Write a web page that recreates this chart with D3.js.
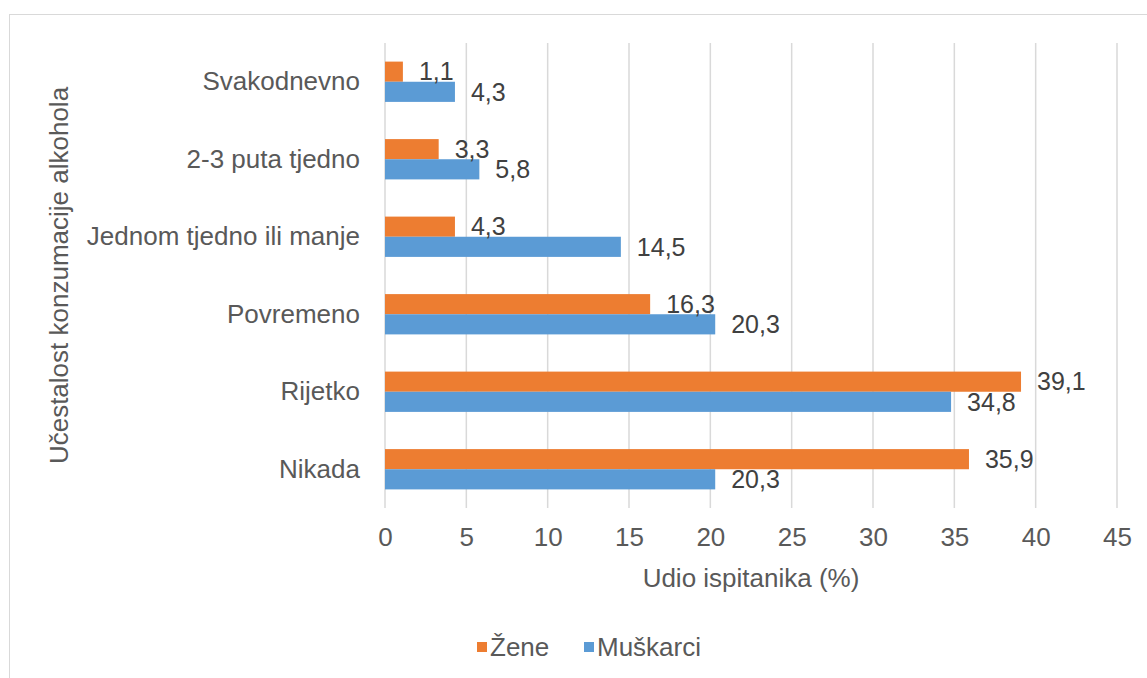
<!DOCTYPE html>
<html>
<head>
<meta charset="utf-8">
<script src="https://cdn.jsdelivr.net/npm/d3@7"></script>
<style>
  body { margin: 0; background: #fff; }
  text { font-family: "Liberation Sans", Arial, sans-serif; }
</style>
</head>
<body>
<script>
const categories = ['Svakodnevno', '2-3 puta tjedno', 'Jednom tjedno ili manje', 'Povremeno', 'Rijetko', 'Nikada'];
const seriesNames = ['Žene', 'Muškarci'];
const zene = [1.1, 3.3, 4.3, 16.3, 39.1, 35.9];
const muskarci = [4.3, 5.8, 14.5, 20.3, 34.8, 20.3];
const xTicks = [0, 5, 10, 15, 20, 25, 30, 35, 40, 45];
const colors = ['#ED7D31', '#5B9BD5'];

const W = 1147, H = 678;
const svg = d3.select('body').append('svg')
  .attr('width', W)
  .attr('height', H);

// chart frame
svg.append('rect')
  .attr('x', 9.5).attr('y', 14.5)
  .attr('width', W).attr('height', H)
  .attr('fill', 'none')
  .attr('stroke', '#d9d9d9');

const margin = { top: 43, left: 385, right: 30, bottom: 170 };
const plotW = W - margin.left - margin.right;
const plotH = H - margin.top - margin.bottom;

const x = d3.scaleLinear().domain([0, 45]).range([0, plotW]);
const y = d3.scaleBand().domain(categories).range([0, plotH]).paddingInner(0.48).paddingOuter(0.24);
const ySub = d3.scaleBand().domain(seriesNames).range([0, y.bandwidth()]);

const g = svg.append('g')
  .attr('transform', 'translate(' + margin.left + ',' + margin.top + ')');

// gridlines
g.append('g')
  .selectAll('line')
  .data(xTicks)
  .enter()
  .append('line')
  .attr('x1', d => x(d)).attr('x2', d => x(d))
  .attr('y1', 0).attr('y2', plotH)
  .attr('stroke', '#d9d9d9')
  .attr('stroke-width', 1.5);

// x tick labels
g.append('g')
  .attr('transform', 'translate(0,' + plotH + ')')
  .call(d3.axisBottom(x).tickValues(xTicks).tickSize(0).tickPadding(20))
  .call(a => a.select('.domain').remove())
  .selectAll('text')
  .attr('fill', '#595959')
  .style('font-size', '26px');

// category labels
g.append('g')
  .call(d3.axisLeft(y).tickSize(0).tickPadding(25))
  .call(a => a.select('.domain').remove())
  .selectAll('text')
  .attr('fill', '#595959')
  .style('font-size', '26px');

const data = categories.map((c, i) => ({ cat: c, vals: [zene[i], muskarci[i]] }));

const groups = g.selectAll('.grp')
  .data(data)
  .enter()
  .append('g')
  .attr('transform', d => 'translate(0,' + y(d.cat) + ')');

groups.selectAll('rect')
  .data(d => d.vals.map((v, j) => ({ name: seriesNames[j], v: v, j: j })))
  .enter()
  .append('rect')
  .attr('x', 0)
  .attr('y', d => ySub(d.name))
  .attr('width', d => x(d.v))
  .attr('height', ySub.bandwidth())
  .attr('fill', d => colors[d.j]);

groups.selectAll('.lbl')
  .data(d => d.vals.map((v, j) => ({ name: seriesNames[j], v: v, j: j })))
  .enter()
  .append('text')
  .attr('x', d => x(d.v) + 16)
  .attr('y', d => ySub(d.name) + ySub.bandwidth() / 2)
  .attr('dy', '0.35em')
  .attr('fill', '#404040')
  .style('font-size', '25px')
  .text(d => d3.format('.1f')(d.v).replace('.', ','));

// axis titles
svg.append('text')
  .attr('x', margin.left + plotW / 2)
  .attr('y', 587)
  .attr('text-anchor', 'middle')
  .attr('fill', '#595959')
  .style('font-size', '26px')
  .text('Udio ispitanika (%)');

svg.append('text')
  .attr('transform', 'translate(68,' + (margin.top + plotH / 2) + ') rotate(-90)')
  .attr('text-anchor', 'middle')
  .attr('fill', '#595959')
  .style('font-size', '26px')
  .text('Učestalost konzumacije alkohola');

// legend
const legendX = [477, 584];
const legend = svg.append('g');
legend.selectAll('rect')
  .data(seriesNames)
  .enter()
  .append('rect')
  .attr('x', (d, i) => legendX[i])
  .attr('y', 642)
  .attr('width', 10).attr('height', 10)
  .attr('fill', (d, i) => colors[i]);
legend.selectAll('text')
  .data(seriesNames)
  .enter()
  .append('text')
  .attr('x', (d, i) => legendX[i] + 13)
  .attr('y', 647)
  .attr('dy', '0.35em')
  .attr('fill', '#595959')
  .style('font-size', '26px')
  .text(d => d);
</script>
</body>
</html>
